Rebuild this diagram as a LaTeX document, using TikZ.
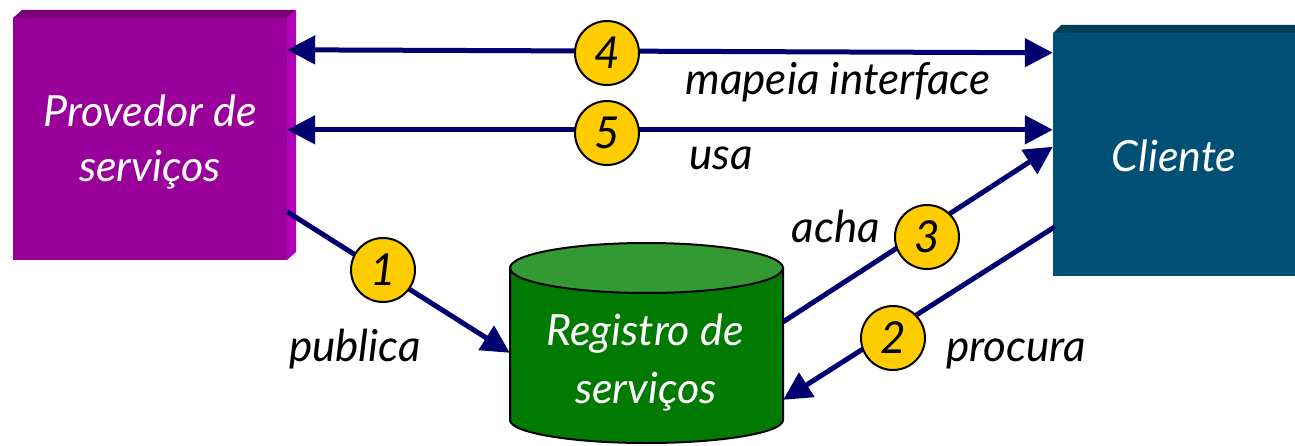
\documentclass[tikz,border=0pt]{standalone}
\usepackage{fontspec}
\setmainfont{Lato}
\usetikzlibrary{arrows.meta,calc}
\definecolor{navy}{HTML}{000070}
\definecolor{provfront}{HTML}{990099}
\definecolor{provtop}{HTML}{7A007A}
\definecolor{provside}{HTML}{B300B8}
\definecolor{clifront}{HTML}{005075}
\definecolor{clitop}{HTML}{003D5A}
\definecolor{regbody}{HTML}{007A00}
\definecolor{regtop}{HTML}{339933}
\definecolor{numfill}{HTML}{FFCC00}
\begin{document}
\begin{tikzpicture}[x=1pt,y=-1pt,
  boxtext/.style={anchor=base,text=white,font=\fontsize{43}{50}\selectfont\itshape,inner sep=0pt},
  lbl/.style={anchor=base,text=black,font=\fontsize{44}{52}\selectfont\itshape,inner sep=0pt},
  num/.style={circle,draw=black,line width=2pt,fill=numfill,minimum size=64pt,inner sep=0pt,
    font=\fontsize{44}{52}\selectfont\itshape},
  conn/.style={draw=navy,line width=5pt},
  tip/.tip={Triangle[length=28pt,width=28pt]}
]
\useasboundingbox (0,0) rectangle (1295,446);
% provider box
\fill[provtop] (13,18) -- (22,10) -- (296,10) -- (287,18) -- cycle;
\fill[provside] (287,18) -- (296,10) -- (296,252) -- (287,260) -- cycle;
\node[rectangle,fill=provfront,minimum width=274pt,minimum height=242pt,inner sep=0pt] (prov) at (150,139) {};
\node[boxtext] (provt1) at (150,127) {Provedor de};
\node[boxtext] (provt2) at (150,182) {serviços};
% client box
\fill[clitop] (1053,33) -- (1061,25) -- (1310,25) -- (1310,33) -- cycle;
\node[rectangle,fill=clifront,minimum width=257pt,minimum height=243pt,inner sep=0pt] (cli) at (1181.5,154.5) {};
\node[boxtext] (clit) at (1174,172) {Cliente};
% registry cylinder
\filldraw[fill=regbody,draw=black,line width=2pt] (510,268) -- (510,420)
  arc[start angle=180,end angle=360,x radius=136.5pt,y radius=23pt] -- (783,268) -- cycle;
\filldraw[fill=regtop,draw=black,line width=2pt] (646.5,268) ellipse [x radius=136.5pt,y radius=25pt];
\node[rectangle,minimum width=273pt,minimum height=152pt,inner sep=0pt] (reg) at (646.5,344) {};
\node[boxtext] (regt1) at (645,345) {Registro de};
\node[boxtext] (regt2) at (646,403) {serviços};
% connector end points
\coordinate (p4) at ($(prov.north east)+(0,32)$);
\coordinate (p5) at ($(prov.north east)+(0,112)$);
\coordinate (p1) at ($(prov.north east)+(0,194)$);
\coordinate (c4) at ($(cli.north west)+(0,20)$);
\coordinate (c5) at ($(cli.north west)+(0,97)$);
\coordinate (c3) at ($(cli.north west)+(0,114)$);
\coordinate (c2) at ($(cli.north west)+(2,194)$);
\coordinate (r1) at ($(reg.north west)+(0,85)$);
\coordinate (r3) at ($(reg.north east)+(0,54)$);
\coordinate (r2) at ($(reg.north east)+(0,132)$);
% connectors
\draw[conn,{tip}-{tip}] (p4) -- (c4);
\draw[conn,{tip}-{tip}] (p5) -- (c5);
\draw[conn,-{tip}] (p1) -- (r1);
\draw[conn,-{tip}] (r3) -- (c3);
\draw[conn,-{tip}] (c2) -- (r2);
% numbers
\node[num] (n4) at (607,53) {4};
\node[num] (n5) at (607,133) {5};
\node[num] (n1) at (383,270) {1};
\node[num] (n3) at (927,237) {3};
\node[num] (n2) at (893,338) {2};
% labels
\node[lbl] (l4) at (838,95) {mapeia interface};
\node[lbl] (l5) at (721,170) {usa};
\node[lbl] (l3) at (836,243) {acha};
\node[lbl] (l1) at (355,361) {publica};
\node[lbl] (l2) at (1016,361) {procura};
\end{tikzpicture}
\end{document}
